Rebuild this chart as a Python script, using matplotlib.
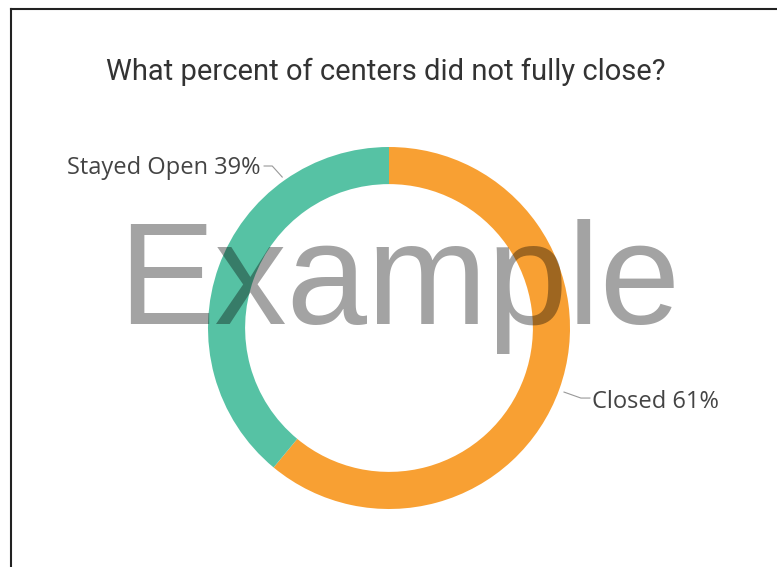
import matplotlib.pyplot as plt
from matplotlib.lines import Line2D

# data
labels = ['Closed', 'Stayed Open']
shares = [61, 39]
colors = ['#F8A033', '#56C2A4']
title = 'What percent of centers did not fully close?'

W, H = 777, 567
fig = plt.figure(figsize=(W / 100, H / 100), dpi=100)
fig.patch.set_facecolor('white')

# donut axes, square box around the ring
cx, cy, R = 389, 328, 181
ax = fig.add_axes([(cx - R) / W, (H - cy - R) / H, 2 * R / W, 2 * R / H])
wedges, _ = ax.pie(shares, colors=colors, startangle=90, counterclock=False,
                   radius=1, wedgeprops=dict(width=0.205, linewidth=0))
ax.set_xlim(-1, 1)
ax.set_ylim(-1, 1)
ax.axis('off')

# labels with leader lines
lab_font = dict(family='Open Sans', fontsize=17, color='#444444')
ax.plot([-0.59, -0.645, -0.69], [0.834, 0.895, 0.895], color='#999999', lw=0.8, clip_on=False)
ax.text(-0.71, 0.884, f'{labels[1]} {shares[1]}%', ha='right', va='center', **lab_font)
ax.plot([0.967, 1.06, 1.11], [-0.354, -0.387, -0.387], color='#999999', lw=0.8, clip_on=False)
ax.text(1.12, -0.41, f'{labels[0]} {shares[0]}%', ha='left', va='center', **lab_font)

# title
fig.text(386 / W, 1 - 72 / H, title, ha='center', va='center',
         family='Roboto', fontsize=21, color='#333333')

# watermark
fig.text(399 / W, 1 - 324 / H, 'Example', ha='center', va='baseline',
         family='Liberation Sans', fontsize=104, color='black', alpha=0.36)

# frame lines (top and left)
fig.add_artist(Line2D([11 / W, 11 / W], [0, 1 - 9 / H], color='#222222', lw=1.5))
fig.add_artist(Line2D([11 / W, 1], [1 - 9 / H, 1 - 9 / H], color='#222222', lw=1.5))

fig.savefig('out.png', dpi=100)
